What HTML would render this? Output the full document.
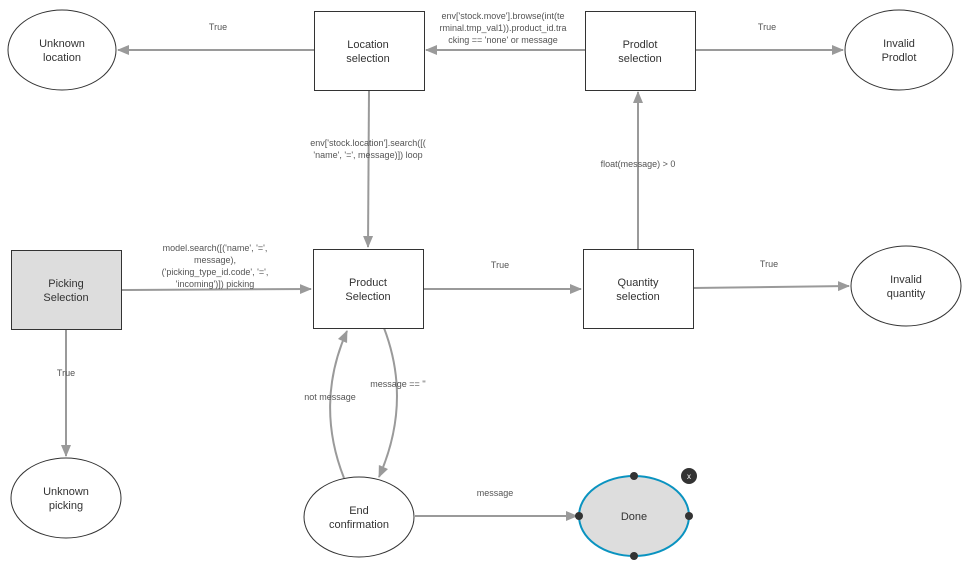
<!DOCTYPE html>
<html><head><meta charset="utf-8"><style>
html,body{margin:0;padding:0;background:#fff;}
svg{display:block;font-family:"Liberation Sans",Arial,sans-serif;}
.n{font-size:11px;fill:#333;text-anchor:middle;}
.l{font-size:9px;fill:#555;text-anchor:middle;}
.e{stroke:#9a9a9a;stroke-width:2;fill:none;}
</style></head><body>
<svg width="969" height="565" viewBox="0 0 969 565">
<defs><marker id="a" markerWidth="12" markerHeight="12" refX="11" refY="6" orient="auto" markerUnits="userSpaceOnUse"><path d="M0,1 L12,6 L0,11 z" fill="#9a9a9a"/></marker></defs>
<line class="e" x1="314" y1="50" x2="118" y2="50" marker-end="url(#a)"/>
<line class="e" x1="585" y1="50" x2="426" y2="50" marker-end="url(#a)"/>
<line class="e" x1="695" y1="50" x2="843" y2="50" marker-end="url(#a)"/>
<line class="e" x1="369" y1="90" x2="368" y2="247" marker-end="url(#a)"/>
<line class="e" x1="638" y1="249" x2="638" y2="92" marker-end="url(#a)"/>
<line class="e" x1="121" y1="290" x2="311" y2="289" marker-end="url(#a)"/>
<line class="e" x1="423" y1="289" x2="581" y2="289" marker-end="url(#a)"/>
<line class="e" x1="693" y1="288" x2="849" y2="286" marker-end="url(#a)"/>
<line class="e" x1="66" y1="329" x2="66" y2="456" marker-end="url(#a)"/>
<line class="e" x1="415" y1="516" x2="577" y2="516" marker-end="url(#a)"/>
<path class="e" d="M344,478 C325,430 325,380 347,331" marker-end="url(#a)"/>
<path class="e" d="M384,328 C402,375 402,425 379,477" marker-end="url(#a)"/>
<text class="l" x="218" y="30">True</text>
<text class="l" x="503" y="19">env['stock.move'].browse(int(te</text>
<text class="l" x="503" y="31">rminal.tmp_val1)).product_id.tra</text>
<text class="l" x="503" y="43">cking == 'none' or message</text>
<text class="l" x="767" y="30">True</text>
<text class="l" x="368" y="146">env['stock.location'].search([(</text>
<text class="l" x="368" y="158">'name', '=', message)]) loop</text>
<text class="l" x="638" y="167">float(message) &gt; 0</text>
<text class="l" x="215" y="251">model.search([('name', '=',</text>
<text class="l" x="215" y="263">message),</text>
<text class="l" x="215" y="275">('picking_type_id.code', '=',</text>
<text class="l" x="215" y="287">'incoming')]) picking</text>
<text class="l" x="500" y="268">True</text>
<text class="l" x="769" y="267">True</text>
<text class="l" x="66" y="376">True</text>
<text class="l" x="398" y="387">message == ''</text>
<text class="l" x="330" y="400">not message</text>
<text class="l" x="495" y="496">message</text>
<ellipse cx="62" cy="50" rx="54" ry="40" fill="#fff" stroke="#333"/>
<text class="n" x="62" y="47">Unknown</text><text class="n" x="62" y="61">location</text>
<rect x="314.5" y="11.5" width="110" height="79" fill="#fff" stroke="#333"/>
<text class="n" x="368" y="48">Location</text><text class="n" x="368" y="62">selection</text>
<rect x="585.5" y="11.5" width="110" height="79" fill="#fff" stroke="#333"/>
<text class="n" x="640" y="48">Prodlot</text><text class="n" x="640" y="62">selection</text>
<ellipse cx="899" cy="50" rx="54" ry="40" fill="#fff" stroke="#333"/>
<text class="n" x="899" y="47">Invalid</text><text class="n" x="899" y="61">Prodlot</text>
<rect x="11.5" y="250.5" width="110" height="79" fill="#ddd" stroke="#333"/>
<text class="n" x="66" y="287">Picking</text><text class="n" x="66" y="301">Selection</text>
<rect x="313.5" y="249.5" width="110" height="79" fill="#fff" stroke="#333"/>
<text class="n" x="368" y="286">Product</text><text class="n" x="368" y="300">Selection</text>
<rect x="583.5" y="249.5" width="110" height="79" fill="#fff" stroke="#333"/>
<text class="n" x="638" y="286">Quantity</text><text class="n" x="638" y="300">selection</text>
<ellipse cx="906" cy="286" rx="55" ry="40" fill="#fff" stroke="#333"/>
<text class="n" x="906" y="283">Invalid</text><text class="n" x="906" y="297">quantity</text>
<ellipse cx="66" cy="498" rx="55" ry="40" fill="#fff" stroke="#333"/>
<text class="n" x="66" y="495">Unknown</text><text class="n" x="66" y="509">picking</text>
<ellipse cx="359" cy="517" rx="55" ry="40" fill="#fff" stroke="#333"/>
<text class="n" x="359" y="514">End</text><text class="n" x="359" y="528">confirmation</text>
<ellipse cx="634" cy="516" rx="55" ry="40" fill="#ddd" stroke="#0a93c0" stroke-width="2"/>
<text class="n" x="634" y="520">Done</text>
<circle cx="634" cy="476" r="4" fill="#333"/>
<circle cx="634" cy="556" r="4" fill="#333"/>
<circle cx="579" cy="516" r="4" fill="#333"/>
<circle cx="689" cy="516" r="4" fill="#333"/>
<circle cx="689" cy="476" r="8" fill="#333"/>
<text x="689" y="479" font-size="8" fill="#fff" text-anchor="middle">x</text>
</svg>
</body></html>
